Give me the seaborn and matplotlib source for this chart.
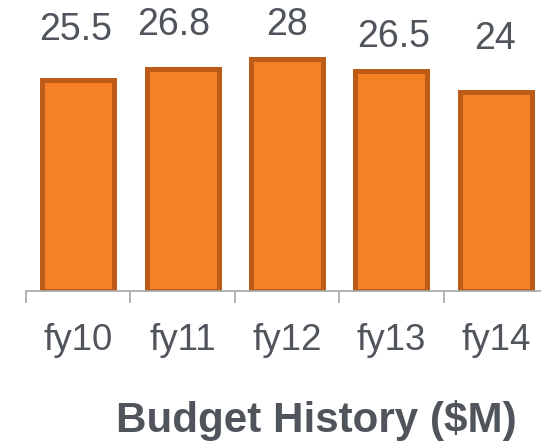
import matplotlib
matplotlib.use("Agg")
import matplotlib.pyplot as plt
import seaborn as sns
import pandas as pd
from matplotlib.ticker import FixedLocator

# ---------------------------------------------------
# Daten
# ---------------------------------------------------
years = ["fy10", "fy11", "fy12", "fy13", "fy14"]
budget = [25.5, 26.8, 28, 26.5, 24]
value_labels = ["25.5", "26.8", "28", "26.5", "24"]

# Label-Versatz in Pixeln (dx, dy) wie im Original
label_dx = [-3, -9, 0, 2, -1]
label_dy = [50, 44, 34, 34, 53]

BAR_FILL = "#F58025"
BAR_EDGE = "#BD5C18"
TEXT_GREY = "#50555C"
AXIS_GREY = "#A6A6A6"

df = pd.DataFrame({"year": years, "budget": budget})

sns.set_style("white")
plt.rcParams["font.family"] = ["Liberation Sans", "DejaVu Sans"]

fig = plt.figure(figsize=(5.41, 4.43), dpi=100)
ax = fig.add_axes([0.048, 0.343, 0.965, 0.657])

sns.barplot(
    data=df,
    x="year",
    y="budget",
    color=BAR_FILL,
    edgecolor=BAR_EDGE,
    linewidth=3.6,
    width=0.69,
    saturation=1,
    ax=ax,
)

ax.set_xlim(-0.5, 4.5)
ax.set_ylim(0, 35.1)

# Werte über den Balken
for i, (v, lab) in enumerate(zip(budget, value_labels)):
    ax.annotate(
        lab,
        xy=(i, v),
        xytext=(label_dx[i], label_dy[i]),
        textcoords="offset pixels",
        ha="center",
        va="center",
        fontsize=27,
        color=TEXT_GREY,
    )

# ---------------------------------------------------
# Achsen-Styling
# ---------------------------------------------------
for side in ["left", "top", "right"]:
    ax.spines[side].set_visible(False)
ax.spines["bottom"].set_color(AXIS_GREY)
ax.spines["bottom"].set_linewidth(1.2)

ax.set_yticks([])
ax.set_xlabel("")
ax.set_ylabel("")
ax.tick_params(axis="x", which="major", length=0, pad=23,
               labelsize=26.5, labelcolor=TEXT_GREY)
ax.xaxis.set_minor_locator(FixedLocator([i - 0.5 for i in range(len(years) + 1)]))
ax.tick_params(axis="x", which="minor", bottom=True, length=8.6, width=1.2,
               color=AXIS_GREY, direction="out")

fig.text(0.584, 0.025, "Budget History ($M)", ha="center", va="baseline",
         fontsize=30.3, fontweight="bold", color=TEXT_GREY)

fig.savefig("out.png", dpi=100)
